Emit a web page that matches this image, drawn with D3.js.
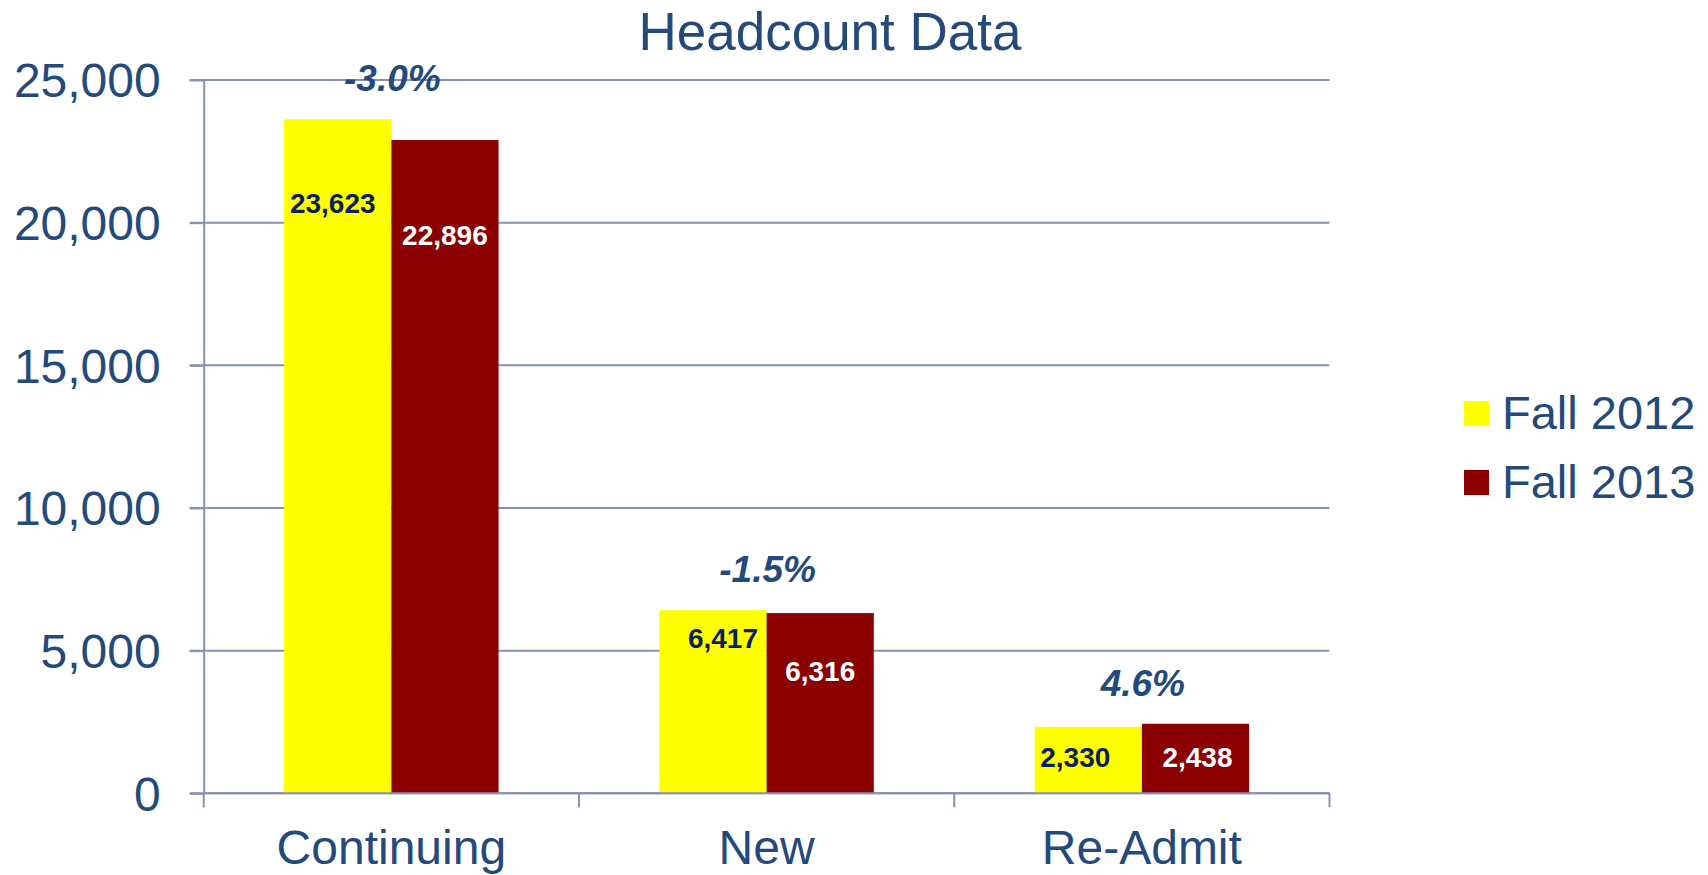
<!DOCTYPE html>
<html><head><meta charset="utf-8">
<script src="https://cdn.jsdelivr.net/npm/d3@7"></script>
<style>body{margin:0;background:#fff}svg{display:block}text{font-family:"Liberation Sans",Arial,sans-serif}</style>
</head><body><svg id="c" width="1708" height="875"></svg>
<script>
const categories = ["Continuing", "New", "Re-Admit"];
const seriesNames = ["Fall 2012", "Fall 2013"];
const fall2012 = [23623, 6417, 2330];
const fall2013 = [22896, 6316, 2438];
const changeLabels = ["-3.0%", "-1.5%", "4.6%"];
const yTicks = [0, 5000, 10000, 15000, 20000, 25000];
const chartTitle = "Headcount Data";

const colors = ["#FFFF00", "#8B0000"];
const labelColors = ["#0B1F5B", "#FFFFFF"];
const textBlue = "#24497B";
const gridColor = "#8792AE";
// value-label layout tweaks: [dx, dy below bar top] per category / series
const labelShift = [[[-5, 84], [0, 95]], [[10, 28], [0, 58]], [[-13, 30], [2, 33]]];

const series = [fall2012, fall2013];
const svg = d3.select("#c");
const m = {left: 203.7, right: 1329.5, top: 80, bottom: 793.3};

const x0 = d3.scaleBand().domain(categories).range([m.left, m.right]).padding(0);
const bw = x0.bandwidth();
const gap = bw * 1.5 / 3.5;
const x1 = d3.scaleBand().domain(seriesNames).range([gap / 2, bw - gap / 2]).padding(0);
const y = d3.scaleLinear().domain([0, 25000]).range([m.bottom, m.top]);

// gridlines
svg.append("g").selectAll("line").data(yTicks).join("line")
  .attr("x1", m.left - 14).attr("x2", m.right)
  .attr("y1", d => y(d)).attr("y2", d => y(d))
  .attr("stroke", gridColor).attr("stroke-width", 2);

// y axis
const yAxis = svg.append("g").attr("transform", `translate(${m.left},0)`)
  .call(d3.axisLeft(y).tickValues(yTicks).tickFormat(d3.format(",")).tickSize(14).tickSizeOuter(0).tickPadding(29));
yAxis.select(".domain").attr("stroke", gridColor).attr("stroke-width", 2);
yAxis.selectAll(".tick line").attr("stroke", gridColor).attr("stroke-width", 2);
yAxis.selectAll(".tick text").attr("fill", textBlue).style("font-size", "48px")
  .style("font-family", '"Liberation Sans", Arial, sans-serif').attr("dy", "0.35em");

// bars
const g = svg.append("g");
categories.forEach((c, i) => {
  seriesNames.forEach((s, j) => {
    const v = series[j][i];
    g.append("rect")
      .attr("x", x0(c) + x1(s)).attr("width", x1.bandwidth())
      .attr("y", y(v)).attr("height", y(0) - y(v))
      .attr("fill", colors[j]);
  });
});

// x axis line & boundary ticks
svg.append("line").attr("x1", m.left).attr("x2", m.right).attr("y1", y(0)).attr("y2", y(0))
  .attr("stroke", gridColor).attr("stroke-width", 2);
const bounds = d3.range(categories.length + 1).map(i => m.left + i * x0.step());
svg.append("g").selectAll("line").data(bounds).join("line")
  .attr("x1", d => d).attr("x2", d => d).attr("y1", y(0)).attr("y2", y(0) + 14)
  .attr("stroke", gridColor).attr("stroke-width", 2);

// category labels
svg.append("g").selectAll("text").data(categories).join("text")
  .attr("x", d => x0(d) + bw / 2).attr("y", 864)
  .attr("text-anchor", "middle").attr("fill", textBlue).style("font-size", "48px")
  .text(d => d);

// value labels
categories.forEach((c, i) => {
  seriesNames.forEach((s, j) => {
    const v = series[j][i];
    const sh = labelShift[i][j];
    g.append("text")
      .attr("x", x0(c) + x1(s) + x1.bandwidth() / 2 + sh[0])
      .attr("y", y(v) + sh[1]).attr("dy", "0.35em")
      .attr("text-anchor", "middle").attr("fill", labelColors[j])
      .style("font-size", "28px").style("font-weight", "bold")
      .text(d3.format(",")(v));
  });
});

// change labels
svg.append("g").selectAll("text").data(categories).join("text")
  .attr("x", d => x0(d) + bw / 2 + 1)
  .attr("y", (d, i) => y(Math.max(fall2012[i], fall2013[i])) - 41).attr("dy", "0.35em")
  .attr("text-anchor", "middle").attr("fill", textBlue)
  .style("font-size", "37px").style("font-weight", "bold").style("font-style", "italic")
  .text((d, i) => changeLabels[i]);

// title
svg.append("text").attr("x", 830).attr("y", 50).attr("text-anchor", "middle")
  .attr("fill", textBlue).style("font-size", "53px").text(chartTitle);

// legend
const lg = svg.append("g");
seriesNames.forEach((s, j) => {
  const ly = 413 + j * 69;
  lg.append("rect").attr("x", 1464).attr("y", ly - 12).attr("width", 25).attr("height", 25).attr("fill", colors[j]);
  lg.append("text").attr("x", 1502).attr("y", ly + 16).attr("fill", textBlue).style("font-size", "47px").text(s);
});
</script></body></html>
